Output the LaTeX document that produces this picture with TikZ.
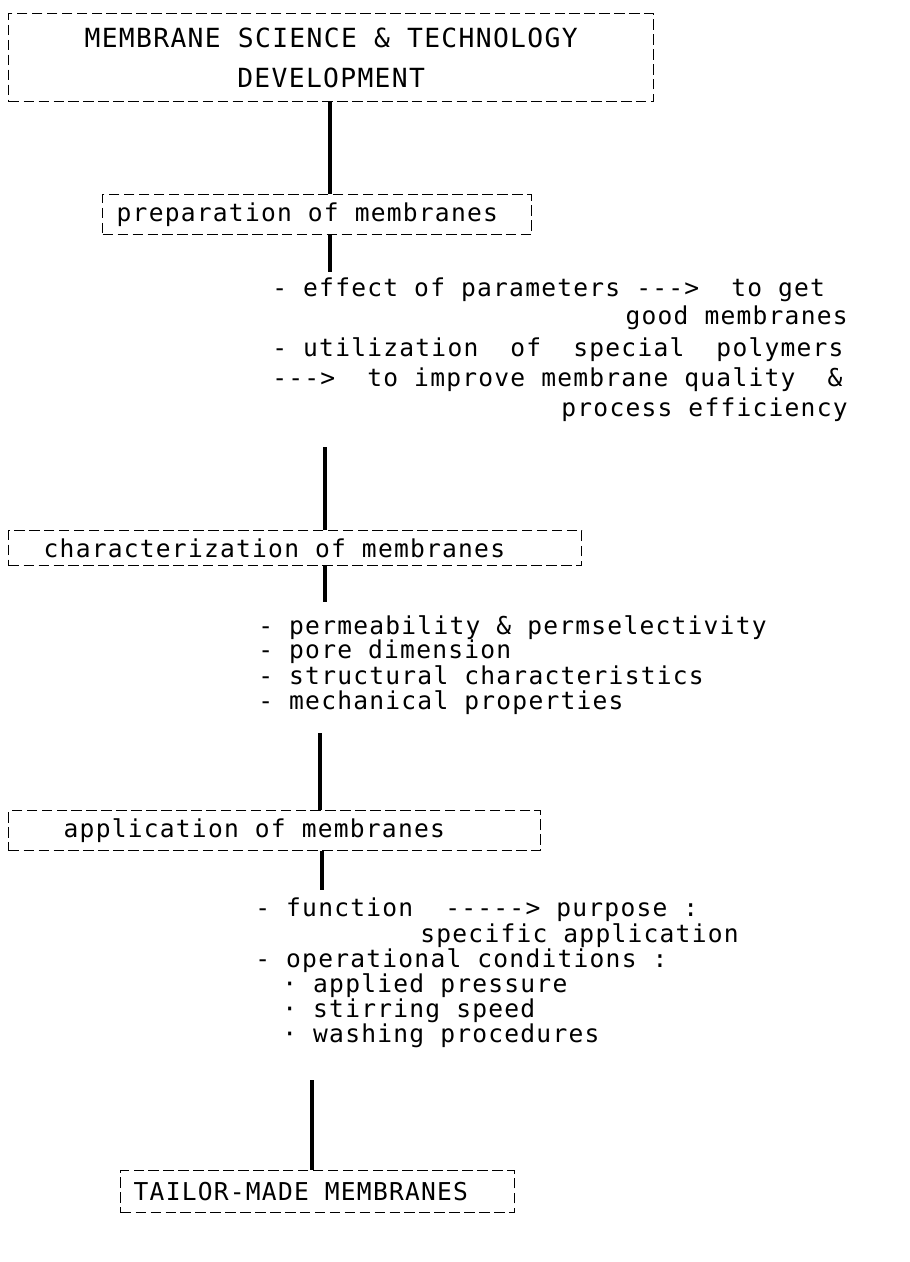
\documentclass[tikz,border=0pt]{standalone}
\usepackage{fontspec}
\usepackage{tikz}
\newfontfamily\dotfont[LetterSpace=5]{DejaVu Sans Mono}
\newcommand\dotsize{\dotfont\fontsize{14}{20.5}\selectfont}
\newcommand\dotbig{\dotfont\fontsize{15}{20.5}\selectfont}

\begin{document}
\begin{tikzpicture}[x=0.02cm,y=-0.02cm,
        BoxStyle/.style={draw, dash pattern=on 6pt off 2.5pt, line width=0.8pt,
                anchor=north west, inner sep=0pt, font=\dotsize},
        LinkStyle/.style={line width=2pt},
        TextStyle/.style={anchor=base west, inner sep=0pt, font=\dotsize}]
        \useasboundingbox (0,0) rectangle (910,1262);
        \node[BoxStyle, align=center, font=\dotbig, minimum width=12.9cm,
                minimum height=1.76cm] (Dev) at (8,13)
                {MEMBRANE SCIENCE \& TECHNOLOGY\\[2pt]DEVELOPMENT};
        \node[BoxStyle, inner xsep=0.28cm, minimum height=0.8cm]
                (Prep) at (102,194) {\makebox[8.02cm][l]{preparation of membranes}};
        \node[BoxStyle, inner xsep=0.7cm, minimum height=0.7cm]
                (Char) at (8,530) {\makebox[10.06cm][l]{characterization of membranes}};
        \node[BoxStyle, inner xsep=1.1cm, minimum height=0.8cm]
                (Appl) at (8,810) {\makebox[8.44cm][l]{application of membranes}};
        \node[BoxStyle, inner xsep=0.26cm, minimum height=0.84cm]
                (Tail) at (120,1170) {\makebox[7.36cm][l]{TAILOR-MADE MEMBRANES}};

        \node[TextStyle] (PrepA) at (272,296) {- effect of parameters -{}-{}-> ~to get};
        \node[TextStyle, anchor=base east] (PrepB) at (848,324) {good membranes};
        \node[TextStyle] (PrepC) at (272,356) {- utilization~~of~~special~~polymers};
        \node[TextStyle] (PrepD) at (272,386) {-{}-{}-> ~to improve membrane quality~~\&};
        \node[TextStyle, anchor=base east] (PrepE) at (848,416) {process efficiency};

        \node[TextStyle] (CharA) at (258,634) {- permeability \& permselectivity};
        \node[TextStyle] (CharB) at (258,658) {- pore dimension};
        \node[TextStyle] (CharC) at (258,684) {- structural characteristics};
        \node[TextStyle] (CharD) at (258,709) {- mechanical properties};

        \node[TextStyle] (ApplA) at (255,916) {- function ~-{}-{}-{}-{}-> purpose :};
        \node[TextStyle] (ApplB) at (420,942) {specific application};
        \node[TextStyle] (ApplC) at (255,967) {- operational conditions :};
        \node[TextStyle] (ApplD) at (282,992) {· applied pressure};
        \node[TextStyle] (ApplE) at (282,1017) {· stirring speed};
        \node[TextStyle] (ApplF) at (282,1042) {· washing procedures};

        \coordinate (PrepOut) at (330,272);
        \coordinate (CharIn) at (325,447);
        \coordinate (CharOut) at (325,602);
        \coordinate (ApplIn) at (320,733);
        \coordinate (ApplOut) at (322,890);
        \coordinate (TailIn) at (312,1080);

        \draw[LinkStyle] (Dev.south -| 330,0) -- (Prep.north -| 330,0);
        \draw[LinkStyle] (Prep.south -| PrepOut) -- (PrepOut);
        \draw[LinkStyle] (CharIn) -- (Char.north -| CharIn);
        \draw[LinkStyle] (Char.south -| CharOut) -- (CharOut);
        \draw[LinkStyle] (ApplIn) -- (Appl.north -| ApplIn);
        \draw[LinkStyle] (Appl.south -| ApplOut) -- (ApplOut);
        \draw[LinkStyle] (TailIn) -- (Tail.north -| TailIn);
\end{tikzpicture}
\end{document}
